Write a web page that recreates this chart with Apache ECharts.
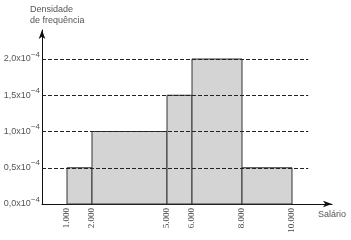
<!DOCTYPE html>
<html><head><meta charset="utf-8">
<script src="https://cdn.jsdelivr.net/npm/echarts@6/dist/echarts.min.js"></script>
<style>html,body{margin:0;padding:0;background:#fff}#c{width:351px;height:240px}</style>
</head><body><div id="c"></div>
<script>
// Histogram classes (salary) and frequency density (in units of 10^-4)
var binStart = [1000, 2000, 5000, 6000, 8000];
var binEnd = [2000, 5000, 6000, 8000, 10000];
var densityE4 = [0.5, 1.0, 1.5, 2.0, 0.5];
var xTickValues = [1000, 2000, 5000, 6000, 8000, 10000];
var xTickLabels = ['1.000', '2.000', '5.000', '6.000', '8.000', '10.000'];
var yTickValues = [0, 0.5, 1.0, 1.5, 2.0];
var yTickLabels = ['0,0', '0,5', '1,0', '1,5', '2,0'];
var gridLineValues = [0.5, 1.0, 1.5, 2.0];
var gridLineEnd = 10650;

var chart = echarts.init(document.getElementById('c'), null, {renderer: 'canvas'});
var font = 'Liberation Sans, Arial, sans-serif';
var data = binStart.map(function (s, i) { return [s, binEnd[i], densityE4[i]]; });

chart.setOption({
  animation: false,
  title: {
    text: 'Densidade\nde frequência',
    left: 25, top: -1,
    textStyle: {fontFamily: font, fontSize: 9, fontWeight: 'normal', color: '#555', lineHeight: 11}
  },
  grid: {left: 42, right: 19, top: 30, bottom: 36, outerBoundsMode: 'none'},
  xAxis: {
    type: 'value', min: 0, max: 11600,
    name: 'Salário', nameLocation: 'end', nameGap: -14,
    nameTextStyle: {fontFamily: font, fontSize: 9, color: '#555', align: 'left', verticalAlign: 'top', padding: [6, 0, 0, 0]},
    axisLine: {show: true, lineStyle: {color: '#111', width: 1}, symbol: ['none', 'arrow'], symbolSize: [5, 9]},
    axisTick: {show: false},
    splitLine: {show: false},
    axisLabel: {
      customValues: xTickValues,
      rotate: 90, margin: 4,
      fontFamily: 'Liberation Serif, Times New Roman, serif', fontSize: 9, color: '#444',
      formatter: function (v) { var i = xTickValues.indexOf(v); return i >= 0 ? xTickLabels[i] : ''; }
    }
  },
  yAxis: {
    type: 'value', min: 0, max: 2.4,
    axisLine: {show: true, lineStyle: {color: '#111', width: 1}, symbol: ['none', 'arrow'], symbolSize: [5, 9]},
    axisTick: {show: false},
    splitLine: {show: false},
    axisLabel: {
      customValues: yTickValues,
      margin: 2,
      formatter: function (v) {
        var i = -1;
        for (var k = 0; k < yTickValues.length; k++) if (Math.abs(yTickValues[k] - v) < 1e-9) i = k;
        return i >= 0 ? '{b|' + yTickLabels[i] + 'x10}{s|\u22124}' : '';
      },
      rich: {
        b: {fontFamily: font, fontSize: 9, color: '#555'},
        s: {fontFamily: font, fontSize: 8, color: '#555', padding: [0, 0, 9, 0]}
      }
    }
  },
  series: [
    {
      type: 'line', data: [], z: 1, silent: true,
      markLine: {
        silent: true, symbol: ['none', 'none'], label: {show: false},
        lineStyle: {color: '#222', width: 1, type: [4, 2]},
        data: gridLineValues.map(function (v) { return [{coord: [0, v]}, {coord: [gridLineEnd, v]}]; })
      }
    },
    {
      type: 'custom', z: 3,
      renderItem: function (params, api) {
        var p0 = api.coord([api.value(0), api.value(2)]);
        var p1 = api.coord([api.value(1), 0]);
        return {
          type: 'rect',
          shape: {x: p0[0], y: p0[1], width: p1[0] - p0[0], height: p1[1] - p0[1]},
          style: {fill: '#d4d4d4', stroke: '#333', lineWidth: 1}
        };
      },
      encode: {x: [0, 1], y: 2},
      data: data
    }
  ]
});
</script></body></html>
